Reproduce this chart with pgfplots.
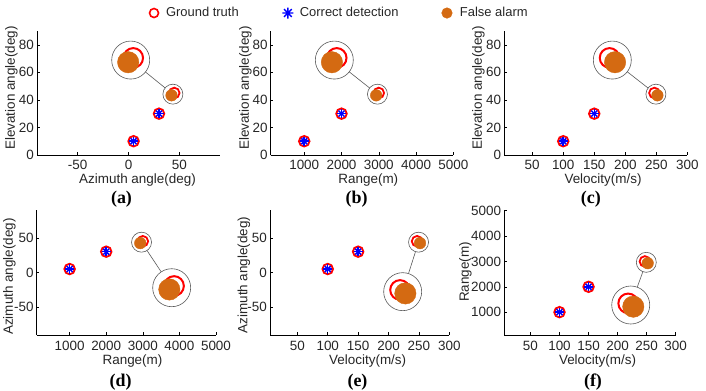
\documentclass[border=0pt]{standalone}
\usepackage{fontspec}
\setmainfont{Liberation Sans}
\newfontfamily\serifb{Liberation Serif}
\usepackage{pgfplots}
\pgfplotsset{compat=1.18}
\definecolor{fa}{RGB}{212,106,18}
\definecolor{tk}{gray}{0.15}
\definecolor{mg}{gray}{0.35}
\newcommand{\tf}{\fontsize{13}{15}\selectfont}
\newcommand{\kf}{\fontsize{13.5}{15}\selectfont}
\newcommand{\lf}{\fontsize{13.5}{15}\selectfont}
\newcommand{\pf}{\serifb\bfseries\fontsize{18}{20}\selectfont}
\pgfplotsset{
  panel/.style={
    scale only axis, anchor=south west,
    axis lines=left,
    axis line style={-, black, line width=0.6bp},
    tick align=inside, major tick length=2.5bp,
    tick style={black, line width=0.5bp},
    tick label style={font=\kf, text=tk},
    yticklabel style={font=\kf, inner sep=0pt, xshift=-3bp},
    xticklabel style={font=\kf, inner sep=0pt, yshift=-4.5bp},
    /pgf/number format/assume math mode=true,
    /pgf/number format/1000 sep={},
    clip=false,
  },
  conn/.style={mg, line width=0.6bp, no markers, forget plot},
  bigmag/.style={only marks, mark=o, mark size=19bp, mg, line width=0.6bp, forget plot},
  smallmag/.style={only marks, mark=o, mark size=10bp, mg, line width=0.6bp, forget plot},
  gt/.style={only marks, mark=o, mark size=5.3bp, red, line width=1.8bp, forget plot},
  gtbig/.style={only marks, mark=o, mark size=9.8bp, red, line width=2.0bp, forget plot},
  cdp/.style={only marks, mark=+, mark size=4.6bp, blue, line width=1.5bp, forget plot},
  cdx/.style={only marks, mark=x, mark size=4.2bp, blue, line width=1.5bp, forget plot},
  fap/.style={only marks, mark=*, mark size=5.8bp, fa, forget plot},
  fabig/.style={only marks, mark=*, mark size=10.7bp, fa, forget plot},
}
\begin{document}
\begin{tikzpicture}
\path[use as bounding box] (0,0) rectangle (706bp,391bp);
% (a)
\begin{axis}[panel, at={(37bp,236bp)}, width=183bp, height=124bp,
  xmin=-90, xmax=90, ymin=0, ymax=90, xtick={-50,0,50}, ytick={0,20,40,60,80}]
 \addplot[conn] coordinates {(16.68,60.24) (36.02,48.70)};
 \addplot[bigmag] coordinates {(2.16,68.9)};
 \addplot[smallmag] coordinates {(43.65,44.15)};
 \addplot[gt] coordinates {(5,10) (30,30) (45,45)};
 \addplot[cdp] coordinates {(5,10) (30,30)};
 \addplot[cdx] coordinates {(5,10) (30,30)};
 \addplot[fap] coordinates {(42.3,43.3)};
 \addplot[gtbig] coordinates {(4.66,70.47)};
 \addplot[fabig] coordinates {(-0.34,67.33)};
\end{axis}
% (b)
\begin{axis}[panel, at={(270.7bp,236bp)}, width=182.6bp, height=124bp,
  xmin=100, xmax=5000, ymin=0, ymax=90, xtick={1000,2000,3000,4000,5000}, ytick={0,20,40,60,80},
  legend columns=3,
  legend style={at={(0.375,1.145)}, anchor=center, draw=none, fill=none, font=\tf, text=tk,
    /tikz/every even column/.append style={column sep=41bp}}]
 \addlegendimage{legend image code/.code={\draw[red, line width=1.6bp] (0bp,0bp) circle (4.5bp); \node[inner sep=0pt, minimum size=0pt, draw=none, fill=none] at (10bp,0bp) {};}}
 \addlegendentry{Ground truth}
 \addlegendimage{legend image code/.code={\draw[blue, line width=1.3bp] (-5.5bp,0bp)--(5.5bp,0bp) (0bp,-5.5bp)--(0bp,5.5bp) (-3.9bp,-3.9bp)--(3.9bp,3.9bp) (-3.9bp,3.9bp)--(3.9bp,-3.9bp); \node[inner sep=0pt, minimum size=0pt, draw=none, fill=none] at (10bp,0bp) {};}}
 \addlegendentry{Correct detection}
 \addlegendimage{legend image code/.code={\fill[fa] (0bp,0bp) circle (5.3bp); \node[inner sep=0pt, minimum size=0pt, draw=none, fill=none] at (11bp,0bp) {};}}
 \addlegendentry{False alarm}
 \addplot[conn] coordinates {(2206.5,60.36) (2754.8,48.64)};
 \addplot[bigmag] coordinates {(1807,68.9)};
 \addplot[smallmag] coordinates {(2965,44.15)};
 \addplot[gt] coordinates {(1000,10) (2000,30) (3000,45)};
 \addplot[cdp] coordinates {(1000,10) (2000,30)};
 \addplot[cdx] coordinates {(1000,10) (2000,30)};
 \addplot[fap] coordinates {(2930,43.3)};
 \addplot[gtbig] coordinates {(1871.8,70.47)};
 \addplot[fabig] coordinates {(1742.3,67.33)};
\end{axis}
% (c)
\begin{axis}[panel, at={(504.3bp,236bp)}, width=183bp, height=124bp,
  xmin=5, xmax=300, ymin=0, ymax=90, xtick={50,100,150,200,250,300}, ytick={0,20,40,60,80}]
 \addplot[conn] coordinates {(203.2,60.41) (236.7,48.62)};
 \addplot[bigmag] coordinates {(179.1,68.9)};
 \addplot[smallmag] coordinates {(249.4,44.15)};
 \addplot[gt] coordinates {(100,10) (150,30) (247,45)};
 \addplot[cdp] coordinates {(100,10) (150,30)};
 \addplot[cdx] coordinates {(100,10) (150,30)};
 \addplot[fap] coordinates {(251.8,43.3)};
 \addplot[gtbig] coordinates {(174.66,70.47)};
 \addplot[fabig] coordinates {(183.54,67.33)};
\end{axis}
% (d)
\begin{axis}[panel, at={(36.7bp,56bp)}, width=179.3bp, height=125bp,
  xticklabel style={yshift=-1.5bp},
  xmin=100, xmax=5000, ymin=-90, ymax=90, xtick={1000,2000,3000,4000,5000}, ytick={-50,0,50}]
 \addplot[conn] coordinates {(3502.2,0.91) (3115.8,31.65)};
 \addplot[bigmag] coordinates {(3789,-21.9)};
 \addplot[smallmag] coordinates {(2965,43.65)};
 \addplot[gt] coordinates {(1000,5) (2000,30) (3000,45)};
 \addplot[cdp] coordinates {(1000,5) (2000,30)};
 \addplot[cdx] coordinates {(1000,5) (2000,30)};
 \addplot[fap] coordinates {(2930,42.3)};
 \addplot[gtbig] coordinates {(3853.8,-19.4)};
 \addplot[fabig] coordinates {(3724.3,-24.4)};
\end{axis}
% (e)
\begin{axis}[panel, at={(270bp,56bp)}, width=179.3bp, height=125bp,
  xticklabel style={yshift=-1.5bp},
  xmin=5, xmax=300, ymin=-90, ymax=90, xtick={50,100,150,200,250,300}, ytick={-50,0,50}]
 \addplot[conn] coordinates {(232.84,-1.54) (244.38,29.93)};
 \addplot[bigmag] coordinates {(223.3,-27.6)};
 \addplot[smallmag] coordinates {(249.4,43.65)};
 \addplot[gt] coordinates {(100,5) (150,30) (247,45)};
 \addplot[cdp] coordinates {(100,5) (150,30)};
 \addplot[cdx] coordinates {(100,5) (150,30)};
 \addplot[fap] coordinates {(251.8,42.3)};
 \addplot[gtbig] coordinates {(218.9,-25.1)};
 \addplot[fabig] coordinates {(227.7,-30.1)};
\end{axis}
% (f)
\begin{axis}[panel, at={(504.3bp,56bp)}, width=171.4bp, height=124.3bp,
  xticklabel style={yshift=-1.5bp},
  xmin=5, xmax=300, ymin=100, ymax=5000, xtick={50,100,150,200,250,300}, ytick={1000,2000,3000,4000,5000}]
 \addplot[conn] coordinates {(233.8,1985.5) (243.5,2594.7)};
 \addplot[bigmag] coordinates {(222.6,1282)};
 \addplot[smallmag] coordinates {(249.4,2965)};
 \addplot[gt] coordinates {(100,1000) (150,2000) (247,3000)};
 \addplot[cdp] coordinates {(100,1000) (150,2000)};
 \addplot[cdx] coordinates {(100,1000) (150,2000)};
 \addplot[fap] coordinates {(251.8,2930)};
 \addplot[gtbig] coordinates {(218.2,1346.8)};
 \addplot[fabig] coordinates {(227.0,1217.3)};
\end{axis}
% labels
\begin{scope}[every node/.style={font=\lf, text=tk}]
\node at (137.5bp,211bp) {Azimuth angle(deg)};
\node at (368.3bp,211bp) {Range(m)};
\node at (603bp,211bp) {Velocity(m/s)};
\node at (132.5bp,30bp) {Range(m)};
\node at (367.7bp,30bp) {Velocity(m/s)};
\node at (597.5bp,30bp) {Velocity(m/s)};
\node[rotate=90] at (11.5bp,303bp) {Elevation angle(deg)};
\node[rotate=90] at (245.5bp,303bp) {Elevation angle(deg)};
\node[rotate=90] at (478.5bp,303bp) {Elevation angle(deg)};
\node[rotate=90] at (9.5bp,114.5bp) {Azimuth angle(deg)};
\node[rotate=90] at (244bp,116bp) {Azimuth angle(deg)};
\node[rotate=90] at (465.5bp,119bp) {Range(m)};
\end{scope}
\begin{scope}[every node/.style={font=\pf, text=black}]
\node at (121.5bp,192bp) {(a)};
\node at (356.7bp,192bp) {(b)};
\node at (590.8bp,192bp) {(c)};
\node at (120.7bp,9.3bp) {(d)};
\node at (357.5bp,9.3bp) {(e)};
\node at (593bp,9.3bp) {(f)};
\end{scope}
\end{tikzpicture}
\end{document}
